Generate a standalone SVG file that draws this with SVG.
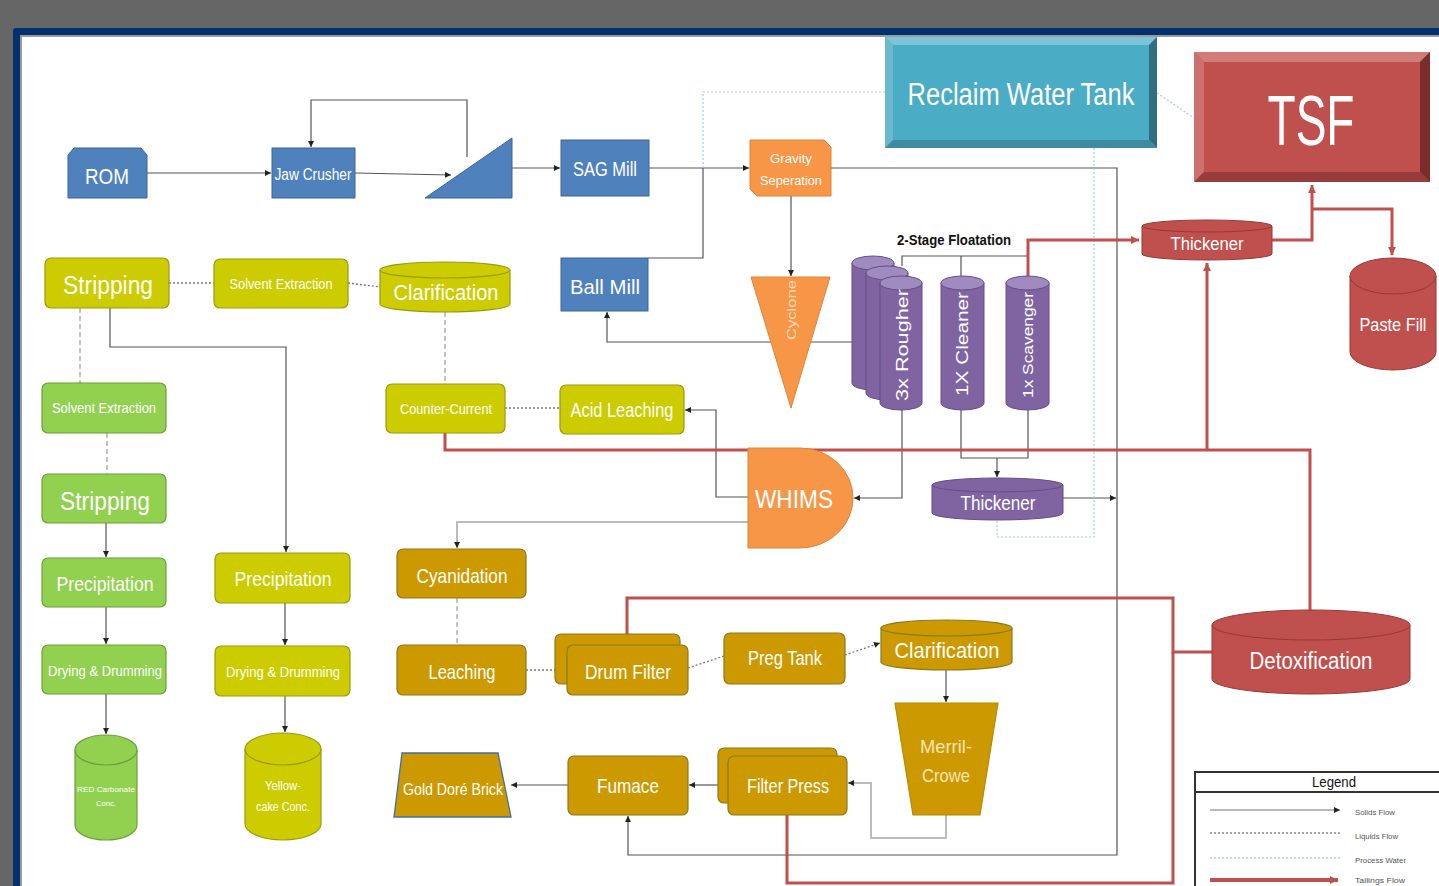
<svg xmlns="http://www.w3.org/2000/svg" width="1439" height="886" viewBox="0 0 1439 886">
<defs>
<style>
.t{font-family:"Liberation Sans",Arial,sans-serif;fill:#fff;text-anchor:middle;dominant-baseline:central}
.k{font-family:"Liberation Sans",Arial,sans-serif;fill:#111;text-anchor:middle;dominant-baseline:central}
.lg{font-family:"Liberation Sans",Arial,sans-serif;fill:#555;font-size:8px;dominant-baseline:central}
.blue{fill:#4F81BD;stroke:#3A6496;stroke-width:1}
.orange{fill:#F79646;stroke:#E0823A;stroke-width:1}
.yel{fill:#CCCC00;stroke:#999A10;stroke-width:1.2}
.grn{fill:#92D050;stroke:#6E9E3C;stroke-width:1.2}
.gold{fill:#CC9900;stroke:#8A7A20;stroke-width:1.2}
.pur{fill:#8064A2;stroke:#654D85;stroke-width:1}
.red{fill:#C0504D;stroke:#9A3835;stroke-width:1}
.solid{fill:none;stroke:#555;stroke-width:1.2}
.lgray{fill:none;stroke:#bbb;stroke-width:2}
.liq{fill:none;stroke:#777;stroke-width:1.3;stroke-dasharray:2 2}
.dash{fill:none;stroke:#888;stroke-width:1;stroke-dasharray:5 3}
.water{fill:none;stroke:#9DD0E2;stroke-width:1.2;stroke-dasharray:2 2}
.tail{fill:none;stroke:#C0504D;stroke-width:3}
</style>
<marker id="a" markerWidth="7" markerHeight="7" refX="6" refY="3" orient="auto" markerUnits="userSpaceOnUse"><path d="M0,0 L6,3 L0,6 Z" fill="#222"/></marker>
<marker id="ar" markerWidth="10" markerHeight="10" refX="8" refY="4" orient="auto" markerUnits="userSpaceOnUse"><path d="M0,0 L8,4 L0,8 Z" fill="#C0504D"/></marker>
</defs>

<rect x="0" y="0" width="1439" height="886" fill="#666"/>
<rect x="13" y="28" width="1440" height="870" rx="3" fill="#00306E"/>
<rect x="20" y="35" width="1430" height="860" fill="#9a9a9a"/>
<rect x="22" y="37" width="1430" height="860" fill="#fff"/>

<g id="connectors">
<path class="solid" d="M147,173 L271,173" marker-end="url(#a)"/>
<path class="solid" d="M355,173 L451,175" marker-end="url(#a)"/>
<path class="solid" d="M467,157 L467,100 L311,100 L311,147" marker-end="url(#a)"/>
<path class="solid" d="M512,168 L560,168" marker-end="url(#a)"/>
<path class="solid" d="M649,168 L749,168" marker-end="url(#a)"/>
<path class="solid" d="M648,258 L703,258 L703,168"/>
<path class="solid" d="M791,196 L791,276" marker-end="url(#a)"/>
<path class="solid" d="M831,168 L1117,168 L1117,855 L628,855 L628,816" marker-end="url(#a)"/>
<path class="solid" d="M1063,498 L1116,498" marker-end="url(#a)"/>
<path class="solid" d="M791,342 L607,342 L607,312" marker-end="url(#a)"/>
<path class="solid" d="M791,342 L879,342" marker-end="url(#a)"/>
<path class="solid" d="M902,266 L902,256 L1028,256"/>
<path class="solid" d="M961,256 L961,289" marker-end="url(#a)"/>
<path class="solid" d="M902,410 L902,498 L854,498" marker-end="url(#a)"/>
<path class="solid" d="M961,410 L961,458 L1028,458 L1028,410"/>
<path class="solid" d="M997,458 L997,477" marker-end="url(#a)"/>
<path class="solid" d="M748,497 L716,497 L716,410 L685,410" marker-end="url(#a)"/>
<path class="lgray" d="M748,522 L457,522 L457,548" marker-end="url(#a)"/>
<path class="solid" d="M946,670 L946,702" marker-end="url(#a)"/>
<path class="lgray" d="M946,815 L946,838 L871,838 L871,783 L848,783" marker-end="url(#a)"/>
<path class="solid" d="M718,785 L689,785" marker-end="url(#a)"/>
<path class="solid" d="M568,785 L511,785" marker-end="url(#a)"/>
<path class="solid" d="M106,523 L106,557" marker-end="url(#a)"/>
<path class="solid" d="M106,607 L106,644" marker-end="url(#a)"/>
<path class="solid" d="M106,694 L106,734" marker-end="url(#a)"/>
<path class="solid" d="M110,308 L110,347 L286,347 L286,552" marker-end="url(#a)"/>
<path class="solid" d="M285,603 L285,645" marker-end="url(#a)"/>
<path class="solid" d="M285,696 L285,732" marker-end="url(#a)"/>
<path class="liq" d="M169,283 L214,283"/>
<path class="liq" d="M348,283 L380,287"/>
<path class="dash" d="M445,312 L445,384"/>
<path class="dash" d="M80,308 L80,383"/>
<path class="dash" d="M107,433 L107,474"/>
<path class="liq" d="M505,408 L560,408"/>
<path class="dash" d="M457,598 L457,645"/>
<path class="liq" d="M526,670 L567,670"/>
<path class="liq" d="M688,668 L724,656"/>
<path class="liq" d="M845,655 L880,643" marker-end="url(#a)"/>
<path class="water" d="M885,92 L703,92 L703,168"/>
<path class="water" d="M1094,148 L1094,537 L997,537 L997,520"/>
<path class="water" d="M1157,93 L1194,118"/>
<path class="tail" d="M1028,276 L1028,240 L1139,240" marker-end="url(#ar)"/>
<path class="tail" d="M1272,240 L1312,240 L1312,185" marker-end="url(#ar)"/>
<path class="tail" d="M1312,209 L1392,209 L1392,255" marker-end="url(#ar)"/>
<path class="tail" d="M445,433 L445,450 L1310,450 L1310,610"/>
<path class="tail" d="M1207,450 L1207,263" marker-end="url(#ar)"/>
<path class="tail" d="M1212,652 L1173,652 L1173,598 L627,598 L627,645"/>
<path class="tail" d="M1173,652 L1173,883 L787,883 L787,815"/>
</g>

<g id="rom"><path class="blue" d="M68,155 L74,148 L141,148 L147,155 L147,198 L68,198 Z"/><text class="t" x="107" y="176" font-size="22" textLength="44" lengthAdjust="spacingAndGlyphs">ROM</text></g>
<g id="jaw-crusher"><rect class="blue" x="272" y="148" width="83" height="50"/><text class="t" x="313" y="174" font-size="16" textLength="77" lengthAdjust="spacingAndGlyphs">Jaw Crusher</text></g>
<g id="screen"><path class="blue" d="M425,198 L512,138 L512,198 Z"/></g>
<g id="sag-mill"><rect class="blue" x="561" y="140" width="88" height="56"/><text class="t" x="605" y="168" font-size="21" textLength="64" lengthAdjust="spacingAndGlyphs">SAG Mill</text></g>
<g id="ball-mill"><rect class="blue" x="561" y="258" width="87" height="53"/><text class="t" x="605" y="286" font-size="21" textLength="70" lengthAdjust="spacingAndGlyphs">Ball Mill</text></g>
<g id="gravity"><path class="orange" d="M750,140 L824,140 L831,147 L831,196 L757,196 L750,189 Z"/><text class="t" x="791" y="158" font-size="13" textLength="42" lengthAdjust="spacingAndGlyphs">Gravity</text><text class="t" x="791" y="180" font-size="13" textLength="62" lengthAdjust="spacingAndGlyphs">Seperation</text></g>

<g id="reclaim-water-tank">
<rect x="885" y="37" width="272" height="111" fill="#4BACC6"/>
<path d="M885,37 L1157,37 L1149,45 L893,45 Z" fill="#7CC5D9"/>
<path d="M885,37 L893,45 L893,140 L885,148 Z" fill="#6BB9CD"/>
<path d="M1157,37 L1157,148 L1149,140 L1149,45 Z" fill="#2F6F82"/>
<path d="M885,148 L893,140 L1149,140 L1157,148 Z" fill="#3D8CA1"/>
<text class="t" x="1021" y="94" font-size="31" textLength="227" lengthAdjust="spacingAndGlyphs">Reclaim Water Tank</text>
</g>
<g id="tsf">
<rect x="1194" y="52" width="236" height="130" fill="#C0504D"/>
<path d="M1194,52 L1430,52 L1420,62 L1204,62 Z" fill="#D27C7A"/>
<path d="M1194,52 L1204,62 L1204,172 L1194,182 Z" fill="#CD716F"/>
<path d="M1430,52 L1430,182 L1420,172 L1420,62 Z" fill="#7A2D2B"/>
<path d="M1194,182 L1204,172 L1420,172 L1430,182 Z" fill="#963C3A"/>
<text class="t" x="1311" y="121" font-size="70" textLength="87" lengthAdjust="spacingAndGlyphs">TSF</text>
</g>

<g id="thickener-red"><path class="red" d="M1142,226 L1142,254 A65,6 0 0 0 1272,254 L1272,226"/><ellipse class="red" cx="1207" cy="226" rx="65" ry="6"/><text class="t" x="1207" y="244" font-size="18" textLength="73" lengthAdjust="spacingAndGlyphs">Thickener</text></g>
<g id="paste-fill"><path class="red" d="M1350,276 L1350,352 A43,18 0 0 0 1436,352 L1436,276"/><ellipse class="red" cx="1393" cy="276" rx="43" ry="18"/><text class="t" x="1393" y="324" font-size="19" textLength="67" lengthAdjust="spacingAndGlyphs">Paste Fill</text></g>

<text class="k" x="954" y="239" font-size="15" font-weight="bold" textLength="114" lengthAdjust="spacingAndGlyphs">2-Stage Floatation</text>

<g id="cyclone"><path class="orange" d="M751,277 L830,277 L791,408 Z"/><text class="t" transform="translate(791,310) rotate(-90)" font-size="13" textLength="60" lengthAdjust="spacingAndGlyphs" style="fill:#FCD9B8">Cyclone</text></g>

<g id="rougher">
<path class="pur" d="M852,263 L852,383 A21,7 0 0 0 894,383 L894,263"/><ellipse cx="873" cy="263" rx="21" ry="7" fill="#A08BC0" stroke="#654D85"/>
<path class="pur" d="M866,273 L866,393 A21,7 0 0 0 908,393 L908,273"/><ellipse cx="887" cy="273" rx="21" ry="7" fill="#A08BC0" stroke="#654D85"/>
<path class="pur" d="M880,283 L880,403 A21,7 0 0 0 922,403 L922,283"/><ellipse cx="901" cy="283" rx="21" ry="7" fill="#A08BC0" stroke="#654D85"/>
<text class="t" transform="translate(902,345) rotate(-90)" font-size="16" textLength="112" lengthAdjust="spacingAndGlyphs">3x Rougher</text>
</g>
<g id="cleaner"><path class="pur" d="M941,283 L941,403 A21.5,7 0 0 0 984,403 L984,283"/><ellipse cx="962.5" cy="283" rx="21.5" ry="7" fill="#A08BC0" stroke="#654D85"/><text class="t" transform="translate(962,344) rotate(-90)" font-size="16" textLength="104" lengthAdjust="spacingAndGlyphs">1X Cleaner</text></g>
<g id="scavenger"><path class="pur" d="M1006,283 L1006,403 A21.5,7 0 0 0 1049,403 L1049,283"/><ellipse cx="1027.5" cy="283" rx="21.5" ry="7" fill="#A08BC0" stroke="#654D85"/><text class="t" transform="translate(1028,345) rotate(-90)" font-size="14" textLength="106" lengthAdjust="spacingAndGlyphs">1x Scavenger</text></g>
<g id="thickener-purple"><path class="pur" d="M932,485 L932,513 A65.5,7 0 0 0 1063,513 L1063,485"/><ellipse class="pur" cx="997.5" cy="485" rx="65.5" ry="7"/><text class="t" x="998" y="503" font-size="20" textLength="75" lengthAdjust="spacingAndGlyphs">Thickener</text></g>
<g id="whims"><path class="orange" d="M748,448 L800,448 A53,50 0 0 1 800,548 L748,548 Z"/><text class="t" x="794" y="499" font-size="25" textLength="78" lengthAdjust="spacingAndGlyphs">WHIMS</text></g>

<g id="stripping-y"><rect class="yel" x="45" y="258" width="124" height="50" rx="6"/><text class="t" x="108" y="285" font-size="25" textLength="90" lengthAdjust="spacingAndGlyphs">Stripping</text></g>
<g id="solvent-y"><rect class="yel" x="214" y="259" width="134" height="49" rx="6"/><text class="t" x="281" y="284" font-size="14" textLength="103" lengthAdjust="spacingAndGlyphs">Solvent Extraction</text></g>
<g id="clarification-y"><path class="yel" d="M380,270 L380,304 A65,8 0 0 0 510,304 L510,270"/><ellipse class="yel" cx="445" cy="270" rx="65" ry="8"/><text class="t" x="446" y="292" font-size="22" textLength="105" lengthAdjust="spacingAndGlyphs">Clarification</text></g>
<g id="solvent-g"><rect class="grn" x="42" y="383" width="124" height="50" rx="6"/><text class="t" x="104" y="408" font-size="14" textLength="104" lengthAdjust="spacingAndGlyphs">Solvent Extraction</text></g>
<g id="counter-current"><rect class="yel" x="386" y="384" width="119" height="49" rx="6"/><text class="t" x="446" y="409" font-size="14" textLength="92" lengthAdjust="spacingAndGlyphs">Counter-Current</text></g>
<g id="acid-leaching"><rect class="yel" x="560" y="385" width="124" height="49" rx="6"/><text class="t" x="622" y="410" font-size="20" textLength="103" lengthAdjust="spacingAndGlyphs">Acid Leaching</text></g>
<g id="stripping-g"><rect class="grn" x="42" y="474" width="124" height="49" rx="6"/><text class="t" x="105" y="501" font-size="25" textLength="90" lengthAdjust="spacingAndGlyphs">Stripping</text></g>
<g id="precip-g"><rect class="grn" x="42" y="558" width="124" height="49" rx="6"/><text class="t" x="105" y="583" font-size="21" textLength="97" lengthAdjust="spacingAndGlyphs">Precipitation</text></g>
<g id="precip-y"><rect class="yel" x="215" y="553" width="135" height="50" rx="6"/><text class="t" x="283" y="578" font-size="21" textLength="97" lengthAdjust="spacingAndGlyphs">Precipitation</text></g>
<g id="drying-g"><rect class="grn" x="42" y="645" width="124" height="49" rx="6"/><text class="t" x="105" y="670" font-size="15" textLength="114" lengthAdjust="spacingAndGlyphs">Drying &amp; Drumming</text></g>
<g id="drying-y"><rect class="yel" x="215" y="646" width="135" height="50" rx="6"/><text class="t" x="283" y="671" font-size="15" textLength="114" lengthAdjust="spacingAndGlyphs">Drying &amp; Drumming</text></g>
<g id="red-carbonate"><path class="grn" d="M75,750 L75,825 A31,15 0 0 0 137,825 L137,750"/><ellipse class="grn" cx="106" cy="750" rx="31" ry="15"/><text class="t" x="106" y="789" font-size="8" textLength="58" lengthAdjust="spacingAndGlyphs">RED Carbonate</text><text class="t" x="106" y="803" font-size="8" textLength="20" lengthAdjust="spacingAndGlyphs">Conc.</text></g>
<g id="yellowcake"><path class="yel" d="M245,749 L245,824 A38,16 0 0 0 321,824 L321,749"/><ellipse class="yel" cx="283" cy="749" rx="38" ry="16"/><text class="t" x="283" y="785" font-size="13" textLength="36" lengthAdjust="spacingAndGlyphs">Yellow-</text><text class="t" x="283" y="806" font-size="13" textLength="54" lengthAdjust="spacingAndGlyphs">cake Conc.</text></g>

<g id="cyanidation"><rect class="gold" x="397" y="549" width="129" height="49" rx="6"/><text class="t" x="462" y="575" font-size="21" textLength="91" lengthAdjust="spacingAndGlyphs">Cyanidation</text></g>
<g id="leaching"><rect class="gold" x="397" y="645" width="129" height="50" rx="6"/><text class="t" x="462" y="671" font-size="21" textLength="67" lengthAdjust="spacingAndGlyphs">Leaching</text></g>
<g id="drum-filter"><rect class="gold" x="555" y="634" width="125" height="50" rx="6"/><rect class="gold" x="567" y="645" width="121" height="50" rx="6"/><text class="t" x="628" y="671" font-size="21" textLength="86" lengthAdjust="spacingAndGlyphs">Drum Filter</text></g>
<g id="preg-tank"><rect class="gold" x="724" y="633" width="121" height="51" rx="6"/><text class="t" x="785" y="658" font-size="20" textLength="74" lengthAdjust="spacingAndGlyphs">Preg Tank</text></g>
<g id="clarification-gold"><path class="gold" d="M881,628 L881,662 A65.5,8 0 0 0 1012,662 L1012,628"/><ellipse class="gold" cx="946.5" cy="628" rx="65.5" ry="8"/><text class="t" x="947" y="650" font-size="22" textLength="105" lengthAdjust="spacingAndGlyphs">Clarification</text></g>
<g id="merril-crowe"><path class="gold" d="M895,703 L998,703 L980,815 L913,815 Z" style="stroke:#B88A00"/><text class="t" x="946" y="746" font-size="19" textLength="52" lengthAdjust="spacingAndGlyphs" style="fill:#F5E6B8">Merril-</text><text class="t" x="946" y="775" font-size="19" textLength="48" lengthAdjust="spacingAndGlyphs" style="fill:#F5E6B8">Crowe</text></g>
<g id="filter-press"><rect class="gold" x="718" y="748" width="119" height="55" rx="6"/><rect class="gold" x="728" y="756" width="119" height="59" rx="6"/><text class="t" x="788" y="786" font-size="20" textLength="82" lengthAdjust="spacingAndGlyphs">Filter Press</text></g>
<g id="furnace"><rect class="gold" x="568" y="756" width="120" height="59" rx="6"/><text class="t" x="628" y="785" font-size="21" textLength="62" lengthAdjust="spacingAndGlyphs">Fumace</text></g>
<g id="gold-dore"><path d="M402,753 L498,753 L511,817 L394,817 Z" fill="#CC9900" stroke="#3F6FA8" stroke-width="1.3"/><text class="t" x="453" y="789" font-size="16" textLength="100" lengthAdjust="spacingAndGlyphs">Gold Doré Brick</text></g>
<g id="detoxification"><path class="red" d="M1212,625 L1212,679 A99,15 0 0 0 1410,679 L1410,625"/><ellipse class="red" cx="1311" cy="625" rx="99" ry="15"/><text class="t" x="1311" y="661" font-size="23" textLength="123" lengthAdjust="spacingAndGlyphs">Detoxification</text></g>

<g id="legend">
<rect x="1195" y="772" width="260" height="130" fill="#fff" stroke="#333" stroke-width="2"/>
<line x1="1195" y1="792" x2="1439" y2="792" stroke="#333" stroke-width="2"/>
<text class="k" x="1334" y="782" font-size="14" textLength="44" lengthAdjust="spacingAndGlyphs">Legend</text>
<path class="solid" d="M1210,810 L1340,810" style="stroke:#777" marker-end="url(#a)"/>
<text class="lg" x="1355" y="812" textLength="40" lengthAdjust="spacingAndGlyphs">Solids Flow</text>
<path class="liq" d="M1210,833 L1340,833" style="stroke:#888"/>
<text class="lg" x="1355" y="836" textLength="43" lengthAdjust="spacingAndGlyphs">Liquids Flow</text>
<path class="water" d="M1210,858 L1340,858" style="stroke:#8FB4DD"/>
<text class="lg" x="1355" y="860" textLength="51" lengthAdjust="spacingAndGlyphs">Process Water</text>
<path class="tail" d="M1210,880 L1338,880" style="stroke-width:4" marker-end="url(#ar)"/>
<text class="lg" x="1355" y="880" textLength="50" lengthAdjust="spacingAndGlyphs">Tailings Flow</text>
</g>
</svg>
